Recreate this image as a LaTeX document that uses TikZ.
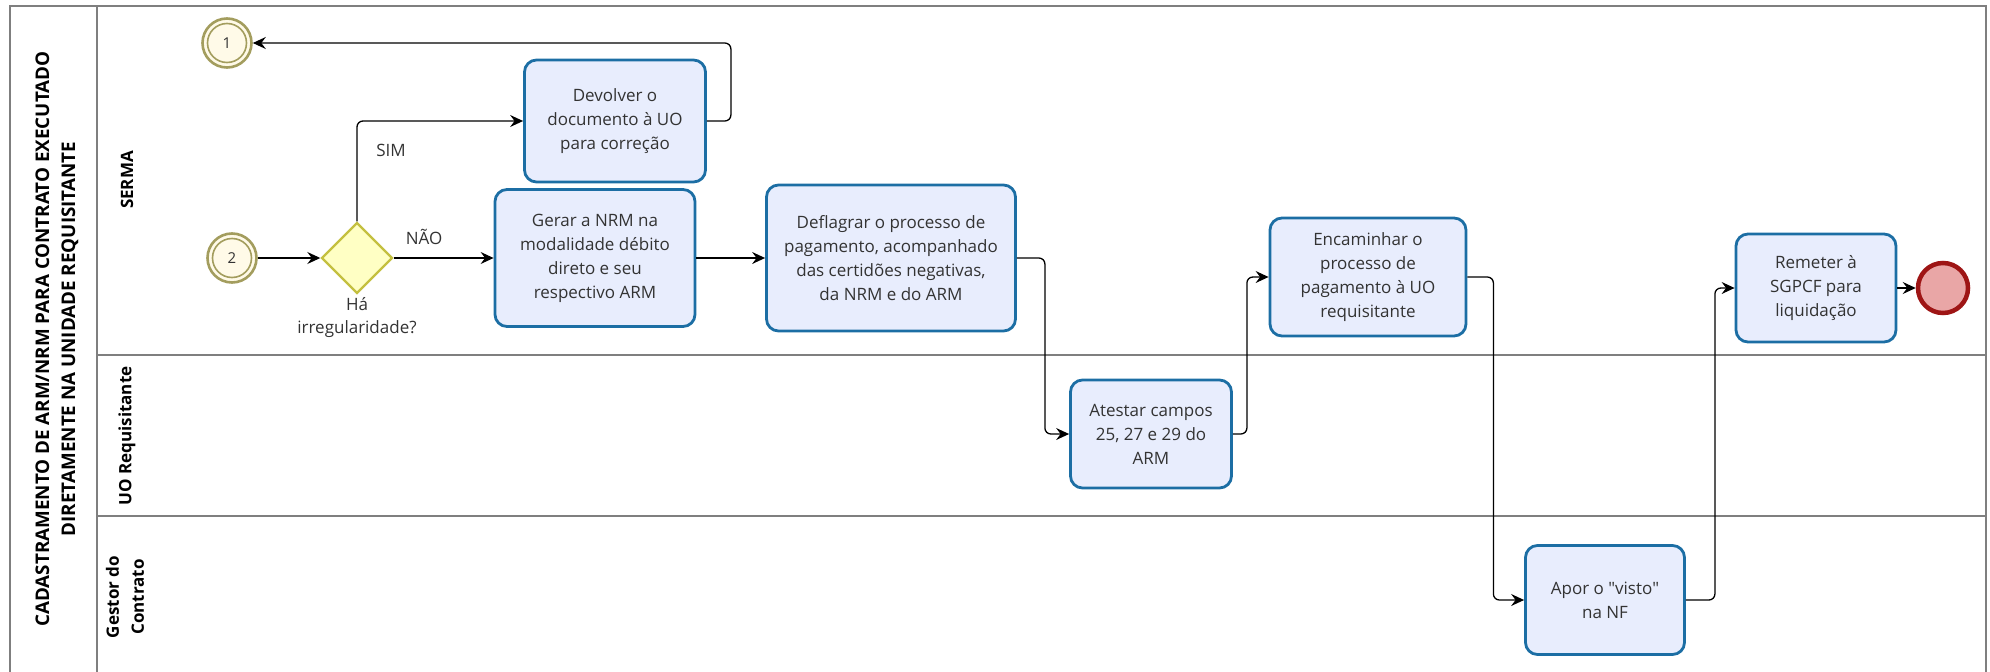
\documentclass[tikz,border=0pt]{standalone}
\usepackage{fontspec}
\setmainfont{Open Sans}
\usetikzlibrary{arrows.meta,shapes.geometric}
\definecolor{txt}{HTML}{333333}
\definecolor{taskfill}{HTML}{E8EDFD}
\definecolor{taskdraw}{HTML}{1C6EA4}
\definecolor{gwfill}{HTML}{FFFFC4}
\definecolor{gwdraw}{HTML}{C4C040}
\definecolor{evdraw}{HTML}{A39D5E}
\definecolor{evfill}{HTML}{FFFAE8}
\definecolor{enddraw}{HTML}{9E1515}
\definecolor{endfill}{HTML}{E9A6A6}
\definecolor{poolc}{HTML}{7F7F7F}
\begin{document}
\begin{tikzpicture}[x=1pt,y=-1pt,
  task/.style={draw=taskdraw, fill=taskfill, line width=2.8pt, rounded corners=12pt,
    align=center, text=txt, font=\fontsize{17}{24}\selectfont, inner sep=0pt},
  gateway/.style={diamond, draw=gwdraw, fill=gwfill, line width=2.4pt, minimum size=71pt, inner sep=0pt},
  linkev/.style={circle, draw=evdraw, fill=evfill, line width=2.6pt, minimum size=49pt, inner sep=0pt,
    text=txt, font=\fontsize{15}{18}\selectfont},
  endev/.style={circle, draw=enddraw, fill=endfill, line width=4.5pt, minimum size=50pt, inner sep=0pt},
  flow/.style={draw=black, line width=1.3pt, rounded corners=6pt, -{Stealth[length=13pt,width=12pt,inset=4.5pt]}},
  lbl/.style={text=txt, font=\fontsize{17}{23}\selectfont, align=center, inner sep=0pt},
  lanelbl/.style={rotate=90, font=\bfseries\fontsize{17}{25}\selectfont, align=center, inner sep=0pt},
  titlelbl/.style={rotate=90, font=\bfseries\fontsize{18.8}{26}\selectfont, align=center, inner sep=0pt},
  poolline/.style={draw=poolc, line width=2pt}]
\useasboundingbox (0,0) rectangle (1990,672);
% pool and lanes
\draw[poolline] (10,6) rectangle (1986,690);
\draw[poolline] (97,6) -- (97,690);
\draw[poolline] (97,355) -- (1986,355);
\draw[poolline] (97,516) -- (1986,516);
\node[titlelbl] (title) at (57,339) {CADASTRAMENTO DE ARM/NRM PARA CONTRATO EXECUTADO\\DIRETAMENTE NA UNIDADE REQUISITANTE};
\node[lanelbl] (laneA) at (127,180) {SERMA};
\node[lanelbl] (laneB) at (127,436) {UO Requisitante};
\node[lanelbl] (laneC) at (125,597) {Gestor do\\Contrato};
% events and gateway
\node[linkev] (c1) at (227,43) {1};
\draw[evdraw, line width=1.6pt] (c1) circle (19.5pt);
\node[linkev] (c2) at (232,258) {2};
\draw[evdraw, line width=1.6pt] (c2) circle (19.5pt);
\node[gateway] (gw) at (357,258) {};
\node[lbl] (gwl) at (357,318) {Há\\irregularidade?};
% tasks
\node[task, minimum width=181pt, minimum height=122pt] (dev) at (615,121) {Devolver o\\documento à UO\\para correção};
\node[task, minimum width=200pt, minimum height=137pt] (ger) at (595,258) {Gerar a NRM na\\modalidade débito\\direto e seu\\respectivo ARM};
\node[task, minimum width=249pt, minimum height=146pt] (dfl) at (891,258) {Deflagrar o processo de\\pagamento, acompanhado\\das certidões negativas,\\da NRM e do ARM};
\node[task, minimum width=161pt, minimum height=108pt] (ate) at (1151,434) {Atestar campos\\25, 27 e 29 do\\ARM};
\node[task, minimum width=196pt, minimum height=118pt] (enc) at (1368,277) {Encaminhar o\\processo de\\pagamento à UO\\requisitante};
\node[task, minimum width=159pt, minimum height=109pt] (apo) at (1605,600) {Apor o \textquotedbl visto\textquotedbl\\na NF};
\node[task, minimum width=160pt, minimum height=108pt] (rem) at (1816,288) {Remeter à\\SGPCF para\\liquidação};
\node[endev] (fim) at (1943,288) {};
% flows
\draw[flow] (c2) -- (gw);
\draw[flow] (gw.north) |- (dev.west);
\node[lbl] (sim) at (391,150) {SIM};
\draw[flow] (gw.east) -- (ger.west);
\node[lbl] (nao) at (424,237) {NÃO};
\draw[flow] (dev.east) -- ++(24,0) |- (c1.east);
\draw[flow] (ger.east) -- (dfl.west);
\draw[flow] (dfl.east) -- ++(28,0) |- (ate.west);
\draw[flow] (ate.east) -- ++(14,0) |- (enc.west);
\draw[flow] (enc.east) -- ++(26,0) |- (apo.west);
\draw[flow] (apo.east) -- ++(29,0) |- (rem.west);
\draw[flow] (rem.east) -- (fim.west);
\end{tikzpicture}
\end{document}
